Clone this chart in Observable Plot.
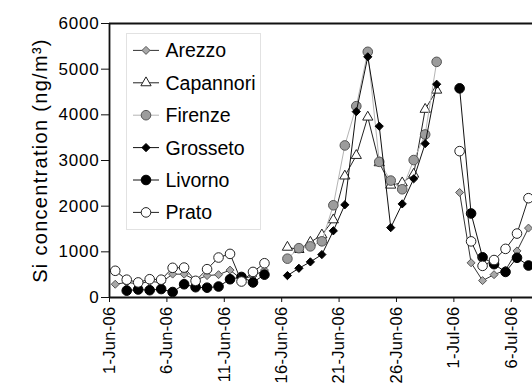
<!DOCTYPE html>
<html><head><meta charset="utf-8">
<script src="https://cdn.jsdelivr.net/npm/d3@7"></script>
<script src="https://cdn.jsdelivr.net/npm/@observablehq/plot@0.6"></script>
<style>
body{margin:0;background:#fff;}
#wrap{position:relative;width:532px;height:383px;overflow:hidden;font-family:"Liberation Sans",Arial,sans-serif;}
#legend{position:absolute;left:126px;top:33px;}
g[aria-label="y-axis tick label"] text{font-size:17px;letter-spacing:0.8px;}
g[aria-label="x-axis tick label"] text{font-size:16.5px;letter-spacing:0.3px;}
g[aria-label="y-axis label"] text{font-size:20px;letter-spacing:1.3px;}
</style></head><body><div id="wrap"></div>
<script>
// ---- data ----
const startDay = "2006-06-01";
const endDay = "2006-07-08"; // exclusive
const tickDates = ["2006-06-01","2006-06-06","2006-06-11","2006-06-16","2006-06-21","2006-06-26","2006-07-01","2006-07-06"];
const yTicks = [0,1000,2000,3000,4000,5000,6000];
const yLabel = "Si concentration (ng/m³)";
const seriesNames = ["Arezzo","Capannori","Firenze","Grosseto","Livorno","Prato"];
const _ = null;
// day 0 = 1-Jun-06 ... day 36 = 7-Jul-06
const arezzo    = [290,330,300,350,330,512,510,380,480,500,600,400,470,600, _,_,_,_,_,_,_,_,_,_,_,_,_,_,_,_, 2300,760,370,500,600,1020,1520];
const capannori = [_,_,_,_,_,_,_,_,_,_,_,_,_,_,_, 1100,1050,1210,1370,1700,2660,3110,3950,2950,2460,2510,2700,4120,4540, _, _,_,_,_,_,_,_];
const firenze   = [_,_,_,_,_,_,_,_,_,_,_,_,_,_,_, 850,1080,1120,1230,2020,3330,4190,5380,2970,2560,2370,3010,3570,5160, _, _,_,_,_,_,_,_];
const grosseto  = [_,_,_,_,_,_,_,_,_,_,_,_,_,_,_, 480,640,780,940,1460,2030,4070,5270,3750,1530,2050,2600,3370,4670, _, _,_,_,_,_,_,_];
const livorno   = [_,150,175,160,185,120,290,225,215,240,400,450,330,500, _,_,_,_,_,_,_,_,_,_,_,_,_,_,_,_, 4580,1840,880,730,560,870,700];
const prato     = [585,390,330,400,390,650,655,365,620,875,955,350,560,750, _,_,_,_,_,_,_,_,_,_,_,_,_,_,_,_, 3205,1229,693,820,1065,1400,2175];

// ---- styles ----
const styles = {
  Arezzo:    {symbol:"diamond2", r:3.6, fill:"#a8a8a8", stroke:"#555", line:"#333"},
  Capannori: {symbol:"triangle", r:3.8, fill:"#fff",    stroke:"#222", line:"#222"},
  Firenze:   {symbol:"circle",   r:4.8, fill:"#9c9c9c", stroke:"#555", line:"#b4b4b4"},
  Grosseto:  {symbol:"diamond2", r:3.7, fill:"#000",    stroke:"#000", line:"#111"},
  Livorno:   {symbol:"circle",   r:4.8, fill:"#000",    stroke:"#000", line:"#111"},
  Prato:     {symbol:"circle",   r:4.8, fill:"#fff",    stroke:"#222", line:"#222"}
};
const values = {Arezzo:arezzo, Capannori:capannori, Firenze:firenze, Grosseto:grosseto, Livorno:livorno, Prato:prato};

const parse = d3.utcParse("%Y-%m-%d");
const days = d3.utcDays(parse(startDay), parse(endDay));
const rowsOf = name => values[name].map((v,i)=>({date:new Date(+days[i] + 12*3600e3), value:v, series:name}));

const x0 = parse(startDay);
const x1 = new Date(+x0 + 36.85*864e5);
const fmt = d3.utcFormat("%-d-%b-%y");

const marks = [];
for (const name of seriesNames) {
  const st = styles[name];
  const rows = rowsOf(name);
  marks.push(Plot.line(rows, {x:"date", y:"value", stroke:st.line, strokeWidth:1}));
  marks.push(Plot.dot(rows.filter(d=>d.value!=null), {x:"date", y:"value", symbol:st.symbol, r:st.r, fill:st.fill, stroke:st.stroke, strokeWidth:1}));
}

const chart = Plot.plot({
  width:532, height:383,
  marginLeft:109, marginRight:0, marginTop:23, marginBottom:86,
  style:{fontFamily:"'Liberation Sans', Arial, sans-serif", fontSize:"15.5px", color:"#000", background:"#fff"},
  x:{type:"utc", domain:[x0,x1]},
  y:{domain:[0,6000]},
  marks:[
    Plot.ruleY([6000], {stroke:"#111", strokeWidth:1.8}),
    ...marks,
    Plot.axisY({ticks:yTicks, tickSize:8, tickPadding:2, tickFormat:d=>String(d), label:yLabel, labelAnchor:"center", labelOffset:77, labelArrow:"none", stroke:"#111"}),
    Plot.axisX({ticks:tickDates.map(parse), tickFormat:fmt, tickRotate:-90, tickSize:5, tickPadding:4, label:null, stroke:"#111"}),
    Plot.ruleY([0], {stroke:"#111", strokeWidth:1.8}),
    Plot.ruleX([x0], {stroke:"#111", strokeWidth:1.8})
  ]
});
document.getElementById("wrap").appendChild(chart);

// ---- legend ----
const lg = d3.select("#wrap").append("svg").attr("id","legend").attr("width",136).attr("height",198);
lg.append("rect").attr("x",0.5).attr("y",0.5).attr("width",134).attr("height",196).attr("fill","#fff").attr("stroke","#e2e2e2");
seriesNames.forEach((name,i)=>{
  const st = styles[name];
  const cy = 17.4 + i*32.4;
  const g = lg.append("g");
  g.append("line").attr("x1",7).attr("x2",33).attr("y1",cy).attr("y2",cy).attr("stroke",st.line).attr("stroke-width",1);
  if (st.symbol === "circle") {
    g.append("circle").attr("cx",20).attr("cy",cy).attr("r",st.r).attr("fill",st.fill).attr("stroke",st.stroke);
  } else {
    const sym = st.symbol === "triangle" ? d3.symbolTriangle : d3.symbolDiamond2;
    g.append("path").attr("transform",`translate(20,${cy})`).attr("d",d3.symbol(sym, st.r*st.r*Math.PI)()).attr("fill",st.fill).attr("stroke",st.stroke);
  }
  g.append("text").attr("x",39.5).attr("y",cy).attr("dy","0.36em").attr("font-size","19.5px").attr("font-family","'Liberation Sans', Arial, sans-serif").attr("fill","#000").text(name);
});
</script></body></html>
